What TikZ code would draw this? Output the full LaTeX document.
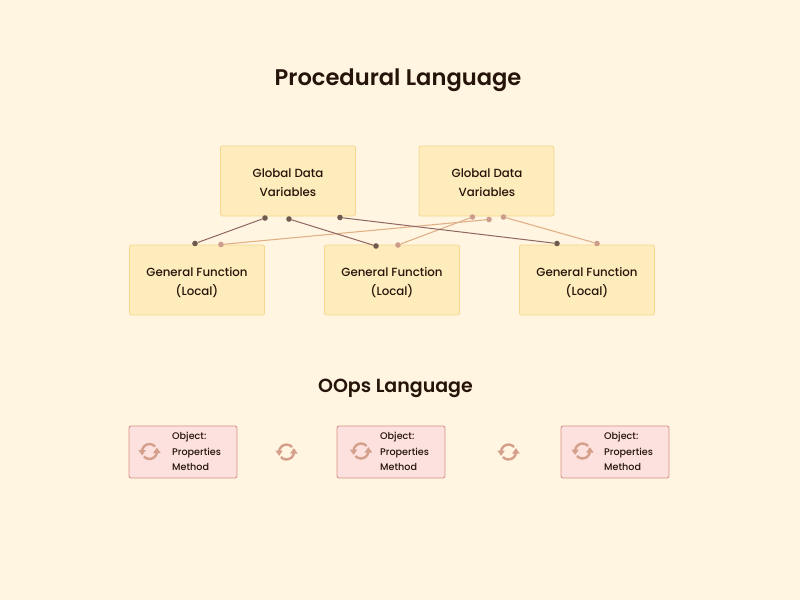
\documentclass[tikz,border=0pt]{standalone}
\usepackage{fontspec}
\setmainfont{Poppins Medium}[BoldFont={Poppins SemiBold}]
\usetikzlibrary{arrows.meta}
\definecolor{bgc}{HTML}{FFF5E0}
\definecolor{ink}{HTML}{26140A}
\definecolor{boxfill}{HTML}{FFECBC}
\definecolor{boxline}{HTML}{F5D88F}
\definecolor{objfill}{HTML}{FCE1DE}
\definecolor{objline}{HTML}{D68F88}
\definecolor{dotdark}{HTML}{6F5A50}
\definecolor{dotlight}{HTML}{CC9C8C}
\definecolor{linedark}{HTML}{8F6662}
\definecolor{linelight}{HTML}{E2B088}
\definecolor{iconc}{HTML}{D49F8B}
\tikzset{
  x=1pt,y=-1pt,
  titletext/.style={text=ink,font=\fontsize{22.6}{28}\selectfont\bfseries,inner sep=0pt},
  subtitletext/.style={text=ink,font=\fontsize{19}{22}\selectfont\bfseries,inner sep=0pt},
  databox/.style={draw=boxline,fill=boxfill,rounded corners=2pt,line width=0.8pt,minimum width=135pt,minimum height=70pt,inner sep=0pt},
  objbox/.style={draw=objline,fill=objfill,rounded corners=2pt,line width=0.8pt,minimum width=108pt,minimum height=52pt,inner sep=0pt},
  objtext/.style={text=ink,font=\fontsize{9.6}{15.2}\selectfont,inner sep=0pt,align=left,anchor=west},
  labeltext/.style={text=ink,font=\fontsize{11.8}{19}\selectfont,inner sep=0pt,align=center},
  dotdk/.style={circle,fill=dotdark,minimum size=5.6pt,inner sep=0pt},
  dotlt/.style={circle,fill=dotlight,minimum size=5.6pt,inner sep=0pt},
  linkdk/.style={draw=linedark,line width=1pt},
  linklt/.style={draw=linelight,line width=1.1pt},
  syncicon/.pic={
    \draw[iconc,line width=2.4pt] (5.6,-5) arc[start angle=-42,end angle=-180,radius=7.5];
    \fill[iconc] (-11.2,-1.5) -- (-3.6,-1.5) -- (-7.4,3.8) -- cycle;
    \draw[iconc,line width=2.4pt] (-5.6,5) arc[start angle=138,end angle=0,radius=7.5];
    \fill[iconc] (11.2,1.5) -- (3.6,1.5) -- (7.4,-3.8) -- cycle;
  }
}
\begin{document}
\begin{tikzpicture}
\useasboundingbox (0,0) rectangle (800,600);
\fill[bgc] (0,0) rectangle (800,600);
\node[titletext] (title) at (398,80) {Procedural Language};
\node[subtitletext] (oops) at (395.5,388) {OOps Language};
\node[databox] (g1) at (288,181) {};
\node[databox] (g2) at (486.5,181) {};
\node[databox] (f1) at (197,280) {};
\node[databox] (f2) at (392,280) {};
\node[databox] (f3) at (587,280) {};
\node[labeltext] (lg1) at (288,183) {Global Data\\Variables};
\node[labeltext] (lg2) at (487,183) {Global Data\\Variables};
\node[labeltext] (lf1) at (197,283) {General Function\\(Local)};
\node[labeltext] (lf2) at (392,283) {General Function\\(Local)};
\node[labeltext] (lf3) at (587,283) {General Function\\(Local)};
\node[objbox] (o1) at (183,452) {};
\node[objbox] (o2) at (391,452) {};
\node[objbox] (o3) at (615,452) {};
\node[objtext] (t1) at (172,451.5) {Object:\\Properties\\Method};
\node[objtext] (t2) at (380,451.5) {Object:\\Properties\\Method};
\node[objtext] (t3) at (604,451.5) {Object:\\Properties\\Method};
\pic at (149.5,451.5) {syncicon};
\pic at (286.5,452) {syncicon};
\pic at (361,451) {syncicon};
\pic at (508.5,452) {syncicon};
\pic at (582.5,451) {syncicon};
\node[dotdk] (a1) at (265,218) {};
\node[dotdk] (a2) at (289,219) {};
\node[dotdk] (a3) at (340,217.5) {};
\node[dotdk] (b1) at (195,243.5) {};
\node[dotdk] (b2) at (376,246) {};
\node[dotdk] (b3) at (557,243.5) {};
\node[dotlt] (c1) at (489,219.5) {};
\node[dotlt] (c2) at (472.5,217) {};
\node[dotlt] (c3) at (503.5,217) {};
\node[dotlt] (d1) at (221,244.5) {};
\node[dotlt] (d2) at (398,245) {};
\node[dotlt] (d3) at (597,243.5) {};
\draw[linklt] (c1) -- (d1);
\draw[linklt] (c2) -- (d2);
\draw[linklt] (c3) -- (d3);
\draw[linkdk] (a1) -- (b1);
\draw[linkdk] (a2) -- (b2);
\draw[linkdk] (a3) -- (b3);
\end{tikzpicture}
\end{document}
